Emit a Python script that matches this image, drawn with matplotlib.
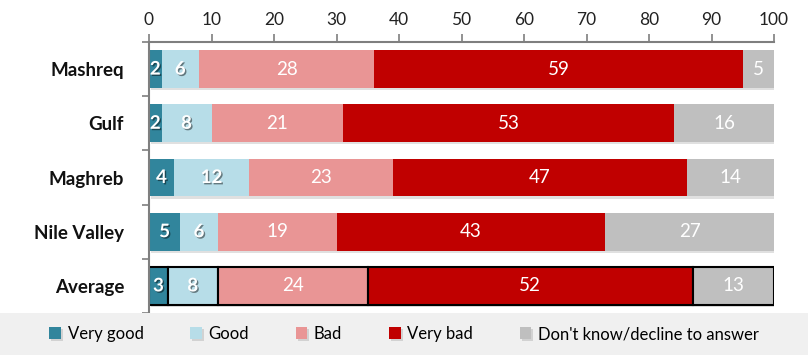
import matplotlib
matplotlib.use("Agg")
import matplotlib.pyplot as plt
import matplotlib.patheffects as pe
from matplotlib.patches import Rectangle
import numpy as np

categories = ["Mashreq", "Gulf", "Maghreb", "Nile Valley", "Average"]
series_names = ["Very good", "Good", "Bad", "Very bad", "Don't know/decline to answer"]
very_good = [2, 2, 4, 5, 3]
good = [6, 8, 12, 6, 8]
bad = [28, 21, 23, 19, 24]
very_bad = [59, 53, 47, 43, 52]
dont_know = [5, 16, 14, 27, 13]
x_ticks = [0, 10, 20, 30, 40, 50, 60, 70, 80, 90, 100]

colors = ["#31859C", "#B7DDE8", "#E99595", "#C00000", "#BFBFBF"]
series = [very_good, good, bad, very_bad, dont_know]
bold_labels = [True, True, False, False, False]

plt.rcParams['font.family'] = ['Lato', 'DejaVu Sans']

fig = plt.figure(figsize=(8.08, 3.55), dpi=100)
fig.patch.set_facecolor("white")
# legend band
fig.patches.append(Rectangle((0, 0), 1, 42/355, transform=fig.transFigure,
                             facecolor="#F0F0F0", edgecolor="none", zorder=0))

ax = fig.add_axes([149/808, 1-313/355, (774-149)/808, (313-42)/355])
ax.set_facecolor("none")

y = np.arange(len(categories))
left = np.zeros(len(categories))
shadow = [pe.SimplePatchShadow(offset=(1.5, -1.5), shadow_rgbFace="#000000", alpha=0.12), pe.Normal()]
for i, (vals, col, name) in enumerate(zip(series, colors, series_names)):
    vals = np.array(vals, dtype=float)
    bars = ax.barh(y, vals, left=left, height=0.7, color=col, label=name, zorder=2)
    for j, b in enumerate(bars):
        b.set_path_effects(shadow)
        if categories[j] == "Average":
            b.set_edgecolor("black")
            b.set_linewidth(1.5)
    for j, v in enumerate(vals):
        cx = left[j] + v / 2
        if bold_labels[i]:
            t = ax.text(cx, y[j], f"{int(v)}", ha="center", va="center", color="white",
                        fontsize=13.5, fontweight="bold", zorder=5)
            t.set_path_effects([pe.withSimplePatchShadow(offset=(1, -1), shadow_rgbFace="#000000", alpha=0.45)])
        else:
            ax.text(cx, y[j], f"{int(v)}", ha="center", va="center", color="white",
                    fontsize=13.5, zorder=5)
    left += vals

ax.set_xlim(0, 100)
ax.set_ylim(len(categories) - 0.5, -0.5)
ax.xaxis.tick_top()
ax.set_xticks(x_ticks)
ax.set_xticklabels([str(t) for t in x_ticks], fontsize=12.5, color="#222222")
ax.tick_params(axis="x", direction="out", length=6, width=1.2, color="#7F7F7F", pad=4)

ax.set_yticks(y)
ax.set_yticklabels(categories, fontsize=13.5, fontweight="bold", color="#111111")
ax.set_yticks(np.arange(len(categories) + 1) - 0.5, minor=True)
ax.tick_params(axis="y", which="major", length=0, pad=18)
ax.tick_params(axis="y", which="minor", direction="out", length=5, width=1.2, color="#7F7F7F")

for s in ["right", "bottom"]:
    ax.spines[s].set_visible(False)
for s in ["top", "left"]:
    ax.spines[s].set_color("#7F7F7F")
    ax.spines[s].set_linewidth(1.5)

handles, labels = ax.get_legend_handles_labels()
leg = fig.legend(handles, labels, loc="center", bbox_to_anchor=(0.5, 21/355), ncol=5,
                 frameon=False, fontsize=12, handlelength=0.7, handleheight=0.7,
                 handletextpad=0.4, columnspacing=2.8)
for h in leg.legend_handles:
    h.set_edgecolor("none")
    h.set_linewidth(0)

fig.savefig("out.png", dpi=100)
